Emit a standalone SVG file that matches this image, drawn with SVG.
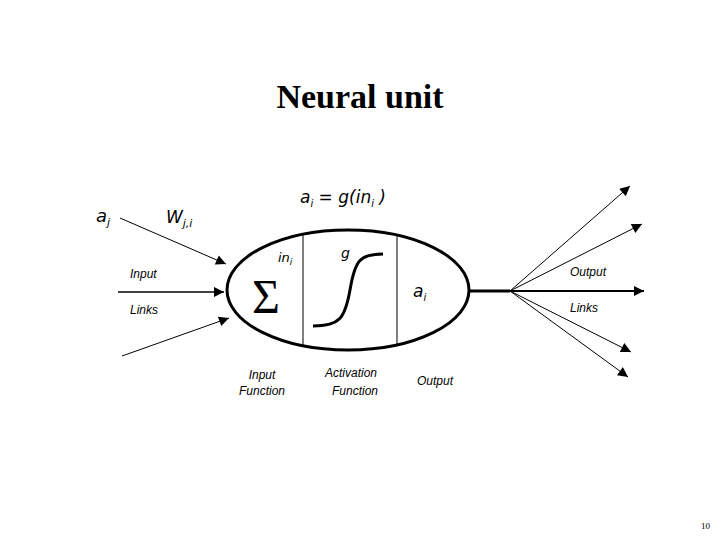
<svg xmlns="http://www.w3.org/2000/svg" width="720" height="540" viewBox="0 0 720 540">
<defs>
<marker id="ab" viewBox="0 0 10 10" refX="10" refY="5" markerWidth="16" markerHeight="10" orient="auto" markerUnits="userSpaceOnUse"><path d="M0,0 L10,5 L0,10 z" fill="#000"/></marker>
</defs>
<style>
.t{font-family:"Liberation Sans",sans-serif;font-style:italic;fill:#000}
.m{font-family:"DejaVu Sans",sans-serif;font-style:italic;fill:#000}
.l{stroke:#000;fill:none}
</style>
<rect width="720" height="540" fill="#fff"/>
<text x="360" y="108" text-anchor="middle" font-family="Liberation Serif,serif" font-weight="bold" font-size="34">Neural unit</text>
<g id="connectors">
<line class="l" x1="120" y1="218" x2="226" y2="264" stroke-width="1" marker-end="url(#ab)"/>
<line class="l" x1="118" y1="292" x2="224" y2="292" stroke-width="1.5" marker-end="url(#ab)"/>
<line class="l" x1="122" y1="356" x2="229" y2="318" stroke-width="1" marker-end="url(#ab)"/>
<line class="l" x1="468" y1="291" x2="510" y2="291" stroke-width="3"/>
<line class="l" x1="510" y1="291" x2="630" y2="186" stroke-width="1" marker-end="url(#ab)"/>
<line class="l" x1="510" y1="291" x2="642" y2="224" stroke-width="1" marker-end="url(#ab)"/>
<line class="l" x1="510" y1="291" x2="644" y2="291" stroke-width="2" marker-end="url(#ab)"/>
<line class="l" x1="510" y1="291" x2="631" y2="352" stroke-width="1" marker-end="url(#ab)"/>
<line class="l" x1="510" y1="291" x2="628" y2="377" stroke-width="1" marker-end="url(#ab)"/>
</g>
<g id="unit">
<ellipse cx="348" cy="290" rx="121" ry="60" class="l" stroke-width="3"/>
<line class="l" x1="303" y1="234" x2="303" y2="346"/>
<line class="l" x1="397" y1="235" x2="397" y2="345"/>
<path class="l" stroke-width="3" d="M313,326 C340,326 345,318 350,290 C355,260 360,254 383,254"/>
<text x="252" y="313" font-family="Liberation Serif,serif" font-size="48">Σ</text>
<text x="278" y="262" class="m" font-size="13">in<tspan font-size="9" dy="3">i</tspan></text>
<text x="341" y="258" class="m" font-size="14">g</text>
<text x="413" y="297" class="m" font-size="17">a<tspan font-size="10" dy="4">i</tspan></text>
</g>
<g id="labels">
<text x="300" y="203" class="m" font-size="17">a<tspan font-size="10" dy="4">i</tspan><tspan dy="-4"> = g(in</tspan><tspan font-size="10" dy="4">i</tspan><tspan dy="-4"> )</tspan></text>
<text x="96" y="222" class="m" font-size="18">a<tspan font-size="11" dy="4">j</tspan></text>
<text x="166" y="223" class="m" font-size="17">W<tspan font-size="11" dy="4">j,i</tspan></text>
<text x="130" y="278" class="t" font-size="12">Input</text>
<text x="130" y="314" class="t" font-size="12">Links</text>
<text x="570" y="276" class="t" font-size="12">Output</text>
<text x="570" y="312" class="t" font-size="12">Links</text>
<text x="262" y="379" text-anchor="middle" class="t" font-size="12">Input</text>
<text x="262" y="395" text-anchor="middle" class="t" font-size="12">Function</text>
<text x="351" y="377" text-anchor="middle" class="t" font-size="12">Activation</text>
<text x="355" y="395" text-anchor="middle" class="t" font-size="12">Function</text>
<text x="435" y="385" text-anchor="middle" class="t" font-size="12">Output</text>
</g>
<text x="710" y="529" text-anchor="end" font-family="Liberation Serif,serif" font-size="9">10</text>
</svg>
